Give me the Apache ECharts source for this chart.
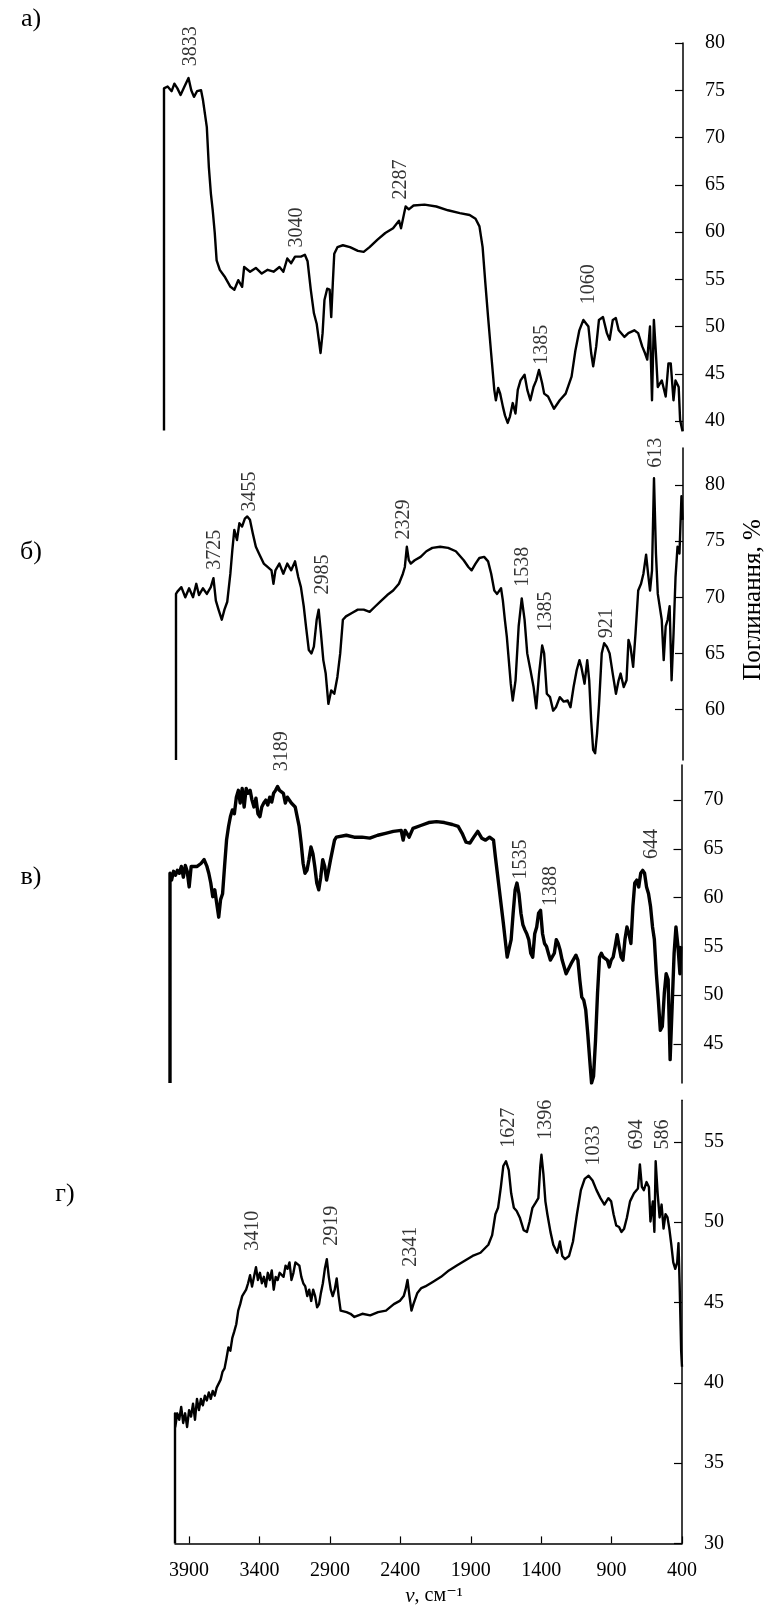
<!DOCTYPE html>
<html>
<head>
<meta charset="utf-8">
<script src="https://cdn.jsdelivr.net/npm/echarts@6/dist/echarts.min.js"></script>
<style>
  html, body { margin: 0; padding: 0; background: #fff; }
  #chart { width: 767px; height: 1608px; }
</style>
</head>
<body>
<div id="chart"></div>
<script>
// wavenumber (cm-1), absorption (%)
const specA = [[4000,39.0],[4000,75.2],[3975,75.4],[3947,74.9],[3928,75.7],[3907,75.2],[3885,74.5],[3858,75.4],[3830,76.3],[3811,75.0],[3792,74.3],[3771,74.9],[3743,75.0],[3730,74.0],[3703,71.1],[3689,66.9],[3675,64.1],[3662,62.3],[3648,59.9],[3635,57.0],[3613,56.0],[3580,55.3],[3539,54.2],[3512,53.9],[3485,54.9],[3458,54.2],[3444,56.3],[3403,55.8],[3363,56.2],[3322,55.6],[3281,56.0],[3240,55.8],[3199,56.3],[3172,55.8],[3145,57.2],[3118,56.7],[3091,57.4],[3050,57.4],[3023,57.6],[3004,56.9],[2982,53.9],[2960,51.4],[2941,50.3],[2914,47.2],[2900,49.3],[2887,52.8],[2868,54.0],[2851,53.9],[2840,51.0],[2829,54.6],[2819,57.7],[2797,58.4],[2759,58.6],[2710,58.4],[2655,58.0],[2615,57.9],[2574,58.4],[2519,59.2],[2465,59.9],[2411,60.4],[2370,61.2],[2356,60.4],[2334,62.0],[2324,62.7],[2302,62.4],[2269,62.8],[2193,62.9],[2111,62.7],[2030,62.3],[1948,62.0],[1880,61.8],[1839,61.4],[1812,60.6],[1790,58.4],[1771,54.6],[1752,51.0],[1731,47.2],[1709,43.3],[1698,42.2],[1682,43.5],[1668,42.9],[1649,41.5],[1635,40.6],[1616,39.8],[1600,40.5],[1581,41.9],[1562,40.8],[1546,43.3],[1527,44.3],[1499,44.9],[1480,43.3],[1459,42.2],[1437,43.6],[1418,44.3],[1399,45.4],[1377,44.0],[1363,42.9],[1336,42.6],[1295,41.3],[1255,42.2],[1214,42.9],[1173,44.7],[1146,47.5],[1119,49.6],[1091,50.7],[1078,50.9],[1056,50.0],[1037,47.2],[1023,45.8],[1002,47.9],[983,50.7],[955,51.0],[928,49.3],[909,48.6],[887,50.7],[866,50.9],[846,49.6],[806,48.9],[779,49.3],[738,49.6],[711,49.3],[683,47.9],[664,47.2],[648,46.5],[629,50.0],[615,42.2],[602,50.7],[588,47.2],[575,43.6],[547,44.3],[520,42.6],[501,46.1],[485,46.1],[466,42.2],[452,44.3],[430,43.6],[420,40.1],[403,38.9]];

const specB = [[4000,55.5],[4000,70.3],[3990,70.5],[3962,70.9],[3934,70.0],[3907,70.8],[3879,70.0],[3856,71.2],[3837,70.2],[3809,70.8],[3781,70.3],[3753,70.9],[3734,71.7],[3717,69.7],[3698,68.9],[3675,68.0],[3656,68.9],[3636,69.6],[3614,72.1],[3600,74.2],[3586,76.0],[3567,75.1],[3550,76.6],[3531,76.3],[3511,77.0],[3494,77.2],[3475,76.9],[3455,75.7],[3433,74.5],[3411,73.9],[3377,73.0],[3350,72.7],[3322,72.4],[3308,71.2],[3294,72.4],[3266,73.0],[3238,72.1],[3210,73.0],[3182,72.4],[3155,73.2],[3132,71.8],[3113,70.9],[3093,69.2],[3077,67.4],[3057,65.3],[3038,65.0],[3021,65.6],[3001,68.0],[2987,68.9],[2971,66.8],[2954,64.4],[2937,63.2],[2918,60.5],[2898,61.7],[2876,61.4],[2854,62.9],[2834,65.0],[2815,68.0],[2793,68.3],[2751,68.6],[2709,68.9],[2667,68.9],[2625,68.7],[2584,69.2],[2542,69.7],[2500,70.2],[2458,70.6],[2417,71.2],[2389,72.1],[2375,72.7],[2361,74.5],[2347,73.3],[2333,73.0],[2305,73.3],[2263,73.6],[2222,74.1],[2180,74.4],[2124,74.5],[2068,74.4],[2013,74.1],[1957,73.3],[1924,72.7],[1901,72.4],[1873,73.0],[1846,73.5],[1812,73.6],[1784,73.2],[1762,72.1],[1740,70.6],[1720,70.3],[1692,70.8],[1679,69.7],[1665,68.0],[1651,66.5],[1637,64.4],[1623,62.3],[1609,60.8],[1589,62.6],[1567,67.4],[1545,69.9],[1525,68.0],[1506,65.0],[1483,63.5],[1461,62.0],[1442,60.1],[1422,63.2],[1400,65.7],[1386,65.0],[1367,61.4],[1344,61.1],[1322,59.9],[1302,60.2],[1275,61.1],[1247,60.7],[1219,60.8],[1199,60.2],[1177,62.0],[1155,63.5],[1135,64.4],[1122,63.8],[1099,62.3],[1080,64.4],[1066,62.6],[1052,59.0],[1038,56.4],[1024,56.1],[1010,57.9],[996,60.5],[977,65.0],[960,65.9],[941,65.6],[921,65.0],[899,63.2],[876,61.4],[857,62.6],[843,63.2],[821,62.0],[801,62.6],[787,66.2],[773,65.6],[754,63.8],[737,66.8],[718,70.6],[698,71.2],[681,72.1],[662,73.8],[648,72.1],[634,70.6],[620,72.4],[606,80.6],[592,73.9],[579,70.3],[565,70.3],[551,68.0],[537,64.4],[523,67.4],[509,68.0],[495,69.2],[481,62.6],[467,66.8],[453,71.8],[439,74.5],[425,73.9],[411,79.0],[403,76.9]];

const specC = [[4000,41.0],[4000,62.5],[3989,61.8],[3975,62.7],[3961,62.3],[3948,62.8],[3934,62.5],[3920,63.2],[3906,62.1],[3892,63.3],[3879,62.7],[3865,61.1],[3851,63.2],[3837,63.0],[3809,63.2],[3782,63.5],[3760,63.9],[3740,63.2],[3727,62.5],[3713,61.5],[3699,60.1],[3685,60.8],[3671,59.4],[3657,58.0],[3644,59.8],[3630,60.4],[3616,63.2],[3602,65.9],[3588,67.3],[3575,68.3],[3561,69.0],[3547,68.6],[3533,70.3],[3519,71.0],[3506,69.7],[3492,71.2],[3478,69.3],[3464,71.2],[3450,70.7],[3436,71.0],[3423,70.0],[3409,69.3],[3395,70.2],[3381,68.6],[3367,68.3],[3354,69.3],[3340,69.7],[3326,70.0],[3312,69.5],[3298,70.3],[3284,69.8],[3271,70.7],[3257,71.0],[3243,71.4],[3229,71.0],[3215,70.85],[3202,70.7],[3188,69.7],[3174,70.3],[3160,70.2],[3146,69.7],[3133,69.8],[3119,69.3],[3105,68.3],[3091,67.3],[3077,65.6],[3063,63.5],[3050,62.5],[3036,62.8],[3022,63.9],[3008,65.2],[2994,64.5],[2981,63.2],[2967,61.5],[2953,60.8],[2939,62.1],[2925,63.9],[2911,63.2],[2898,61.8],[2884,62.8],[2870,63.9],[2856,64.9],[2842,65.9],[2829,66.2],[2815,66.4],[2759,66.4],[2704,66.2],[2649,66.2],[2594,66.1],[2538,66.4],[2483,66.6],[2428,66.8],[2373,66.9],[2359,65.9],[2345,66.9],[2317,66.2],[2290,67.1],[2235,67.4],[2179,67.7],[2124,67.8],[2069,67.7],[2013,67.5],[1972,67.3],[1944,66.6],[1917,65.7],[1889,65.6],[1862,66.2],[1834,66.8],[1806,66.1],[1779,65.9],[1751,66.2],[1723,65.9],[1710,64.2],[1696,62.5],[1682,60.8],[1668,59.1],[1654,57.4],[1641,55.7],[1627,53.9],[1613,53.9],[1599,55.7],[1585,58.4],[1571,60.8],[1558,61.5],[1544,60.4],[1530,58.4],[1516,57.2],[1502,56.7],[1489,56.3],[1475,55.7],[1461,54.3],[1447,53.9],[1433,56.3],[1419,57.0],[1406,58.4],[1392,58.7],[1378,56.3],[1364,55.3],[1350,55.0],[1337,54.3],[1323,53.6],[1295,54.3],[1281,55.7],[1268,55.3],[1254,54.6],[1240,53.6],[1212,52.2],[1198,52.6],[1171,53.4],[1143,54.1],[1129,53.6],[1116,51.6],[1102,49.8],[1088,49.5],[1074,48.5],[1060,46.1],[1046,43.4],[1033,41.0],[1019,41.7],[1005,45.4],[991,50.2],[977,53.9],[964,54.3],[950,53.9],[922,53.6],[908,52.9],[895,53.6],[881,53.9],[867,55.0],[853,56.2],[839,55.0],[825,53.9],[812,53.6],[798,55.7],[784,57.0],[770,56.3],[756,55.3],[742,59.1],[729,61.5],[715,61.8],[701,61.1],[687,62.5],[673,62.8],[660,62.5],[646,61.1],[632,60.4],[618,59.1],[604,57.0],[591,55.7],[577,52.2],[563,49.5],[549,46.4],[535,46.8],[521,50.2],[508,52.2],[494,51.6],[480,43.4],[466,48.8],[452,54.3],[439,57.0],[425,55.0],[411,52.2],[405,55.0]];

const specD = [[4000,30.0],[4000,38.1],[3998,37.25],[3984,38.1],[3970,37.7],[3956,38.5],[3942,37.5],[3928,38.1],[3914,37.25],[3900,38.3],[3886,37.9],[3872,38.7],[3858,37.7],[3844,39.0],[3830,38.3],[3816,39.0],[3802,38.6],[3788,39.2],[3774,38.9],[3760,39.4],[3746,39.0],[3732,39.5],[3718,39.2],[3704,39.7],[3690,39.6],[3676,40.2],[3662,40.7],[3648,40.9],[3635,41.5],[3621,42.2],[3607,42.0],[3593,42.8],[3579,43.2],[3565,43.65],[3551,44.5],[3537,44.9],[3523,45.4],[3509,45.5],[3495,45.8],[3481,46.2],[3467,46.7],[3453,46.0],[3439,46.6],[3425,47.2],[3411,46.4],[3397,46.85],[3383,46.2],[3369,46.6],[3355,46.0],[3341,46.85],[3327,46.4],[3313,47.0],[3299,45.8],[3285,46.6],[3271,46.4],[3257,46.85],[3229,46.6],[3215,47.3],[3201,47.1],[3187,47.5],[3173,46.4],[3159,46.85],[3145,47.5],[3131,47.6],[3117,47.3],[3103,46.6],[3089,46.2],[3075,46.0],[3061,45.4],[3047,45.8],[3033,45.1],[3019,45.8],[3005,45.4],[2991,44.7],[2977,44.9],[2964,45.6],[2950,46.2],[2936,47.1],[2922,47.7],[2908,46.6],[2894,45.8],[2880,45.4],[2866,45.8],[2852,46.5],[2838,45.4],[2824,44.5],[2810,44.4],[2782,44.4],[2754,44.3],[2726,44.1],[2670,44.3],[2614,44.2],[2558,44.4],[2502,44.5],[2446,44.9],[2404,45.1],[2376,45.4],[2363,45.8],[2349,46.4],[2335,45.4],[2321,44.5],[2307,44.9],[2279,45.6],[2251,45.9],[2223,46.0],[2167,46.3],[2111,46.6],[2055,47.0],[1999,47.3],[1943,47.6],[1887,47.9],[1831,48.1],[1775,48.6],[1748,49.2],[1725,50.5],[1706,50.9],[1686,52.2],[1669,53.5],[1650,53.8],[1630,53.25],[1613,51.8],[1594,50.9],[1574,50.7],[1552,50.3],[1524,49.5],[1501,49.4],[1482,50.05],[1462,50.9],[1440,51.2],[1420,51.5],[1406,53.5],[1398,54.2],[1384,53.0],[1370,51.3],[1356,50.5],[1334,49.4],[1314,48.6],[1286,48.1],[1267,48.8],[1250,47.9],[1230,47.7],[1202,47.9],[1174,48.8],[1146,50.5],[1118,52.0],[1091,52.7],[1063,52.9],[1035,52.6],[1007,52.0],[979,51.5],[951,51.1],[923,51.5],[903,51.3],[886,50.5],[867,49.8],[847,49.7],[830,49.4],[811,49.6],[791,50.3],[769,51.3],[741,51.8],[713,52.1],[699,53.6],[685,52.2],[671,52.0],[652,52.5],[635,52.2],[624,50.05],[607,51.3],[596,49.4],[587,53.8],[573,51.8],[559,50.3],[545,51.1],[531,49.6],[517,50.5],[503,50.3],[490,49.6],[476,48.6],[462,47.5],[448,47.1],[434,47.5],[425,48.7],[417,46.2],[406,42.0],[400,41.0]];

// peak labels: position of the label foot [wavenumber, value] and its text
const peaksA = [[3811, 77.5, '3833'], [3077, 58.3, '3040'], [2356, 63.4, '2287'], [1377, 45.9, '1385'], [1051, 52.3, '1060']];
const peaksB = [[3725, 72.4, '3725'], [3475, 77.6, '3455'], [2960, 70.2, '2985'], [2380, 75.1, '2329'], [1539, 70.9, '1538'], [1372, 66.9, '1385'], [940, 66.3, '921'], [592, 81.5, '613']];
const peaksC = [[3215, 72.9, '3189'], [1530, 61.8, '1535'], [1317, 59.1, '1388'], [610, 63.9, '644']];
const peaksD = [[3447, 48.2, '3410'], [2888, 48.5, '2919'], [2329, 47.2, '2341'], [1630, 54.6, '1627'], [1370, 55.1, '1396'], [1026, 53.5, '1033'], [719, 54.5, '694'], [540, 54.5, '586']];

const xTicks = [3900, 3400, 2900, 2400, 1900, 1400, 900, 400];
const yTicksA = [40, 45, 50, 55, 60, 65, 70, 75, 80];
const yTicksB = [60, 65, 70, 75, 80];
const yTicksC = [45, 50, 55, 60, 65, 70];
const yTicksD = [30, 35, 40, 45, 50, 55];

const panelNames = ['а)', 'б)', 'в)', 'г)'];

const serif = '"Liberation Serif", "DejaVu Serif", serif';

// layout of the four stacked panels
const panels = [
  { grid: { left: 164, top: 43, width: 519, height: 387.5 }, min: 39.0, max: 80, ticks: yTicksA, data: specA, peaks: peaksA, lw: 2.4 },
  { grid: { left: 176, top: 448, width: 507, height: 312 }, min: 55.5, max: 83.3, ticks: yTicksB, data: specB, peaks: peaksB, lw: 2.4 },
  { grid: { left: 170, top: 765, width: 511.5, height: 318 }, min: 41.0, max: 73.6, ticks: yTicksC, data: specC, peaks: peaksC, lw: 3.4 },
  { grid: { left: 175, top: 1100.2, width: 507, height: 443.2 }, min: 30, max: 57.6, ticks: yTicksD, data: specD, peaks: peaksD, lw: 2.4 }
];

const grids = [];
const xAxes = [];
const yAxes = [];
const series = [];

panels.forEach(function (p, i) {
  grids.push(p.grid);
  const last = i === panels.length - 1;
  xAxes.push({
    type: 'value',
    gridIndex: i,
    min: 400,
    max: 4000,
    inverse: true,
    show: last,
    splitLine: { show: false },
    axisLine: { show: true, onZero: false, lineStyle: { color: '#000', width: 1.5 } },
    axisTick: { show: true, inside: true, length: 7, customValues: xTicks, lineStyle: { color: '#000', width: 1.2 } },
    axisLabel: {
      show: true,
      customValues: xTicks,
      margin: 17,
      color: '#000',
      fontFamily: serif,
      fontSize: 20,
      formatter: function (v) { return String(v); }
    }
  });
  yAxes.push({
    type: 'value',
    gridIndex: i,
    position: 'right',
    min: p.min,
    max: p.max,
    splitLine: { show: false },
    axisLine: { show: true, onZero: false, lineStyle: { color: '#000', width: 1.5 } },
    axisTick: { show: true, inside: true, length: 8, customValues: p.ticks, lineStyle: { color: '#000', width: 1.2 } },
    axisLabel: {
      show: true,
      customValues: p.ticks,
      margin: 22,
      color: '#000',
      fontFamily: serif,
      fontSize: 20,
      formatter: function (v) { return String(v); }
    }
  });
  series.push({
    type: 'line',
    xAxisIndex: i,
    yAxisIndex: i,
    data: p.data,
    showSymbol: false,
    symbol: 'none',
    lineStyle: { color: '#000', width: p.lw, join: 'round' },
    silent: true
  });
  series.push({
    type: 'scatter',
    xAxisIndex: i,
    yAxisIndex: i,
    symbolSize: 1,
    itemStyle: { color: 'rgba(0,0,0,0)' },
    data: p.peaks.map(function (d) {
      return { name: d[2], value: [d[0], d[1]] };
    }),
    label: {
      show: true,
      formatter: '{b}',
      position: 'top',
      distance: 0,
      rotate: 90,
      align: 'left',
      verticalAlign: 'middle',
      color: '#000',
      fontFamily: serif,
      fontSize: 20
    },
    silent: true
  });
});

const panelLabelPos = [[31, 19], [31, 552], [31, 877], [65, 1194]];
const graphics = panelNames.map(function (t, i) {
  return {
    type: 'text',
    x: panelLabelPos[i][0],
    y: panelLabelPos[i][1],
    style: { text: t, fill: '#000', font: '26px ' + serif, align: 'center', verticalAlign: 'middle' }
  };
});
graphics.push({
  type: 'text',
  x: 753,
  y: 600,
  rotation: Math.PI / 2,
  style: { text: 'Поглинання, %', fill: '#000', font: '25px ' + serif, align: 'center', verticalAlign: 'middle' }
});
graphics.push({
  type: 'text',
  x: 434,
  y: 1596,
  style: {
    text: '{i|ν}, см⁻¹',
    fill: '#000',
    font: '20px ' + serif,
    align: 'center',
    verticalAlign: 'middle',
    rich: { i: { fontStyle: 'italic', fontFamily: serif, fontSize: 21 } }
  }
});

const chart = echarts.init(document.getElementById('chart'), null, { renderer: 'canvas' });
chart.setOption({
  backgroundColor: '#fff',
  animation: false,
  grid: grids,
  xAxis: xAxes,
  yAxis: yAxes,
  series: series,
  graphic: { elements: graphics }
});
</script>
</body>
</html>
